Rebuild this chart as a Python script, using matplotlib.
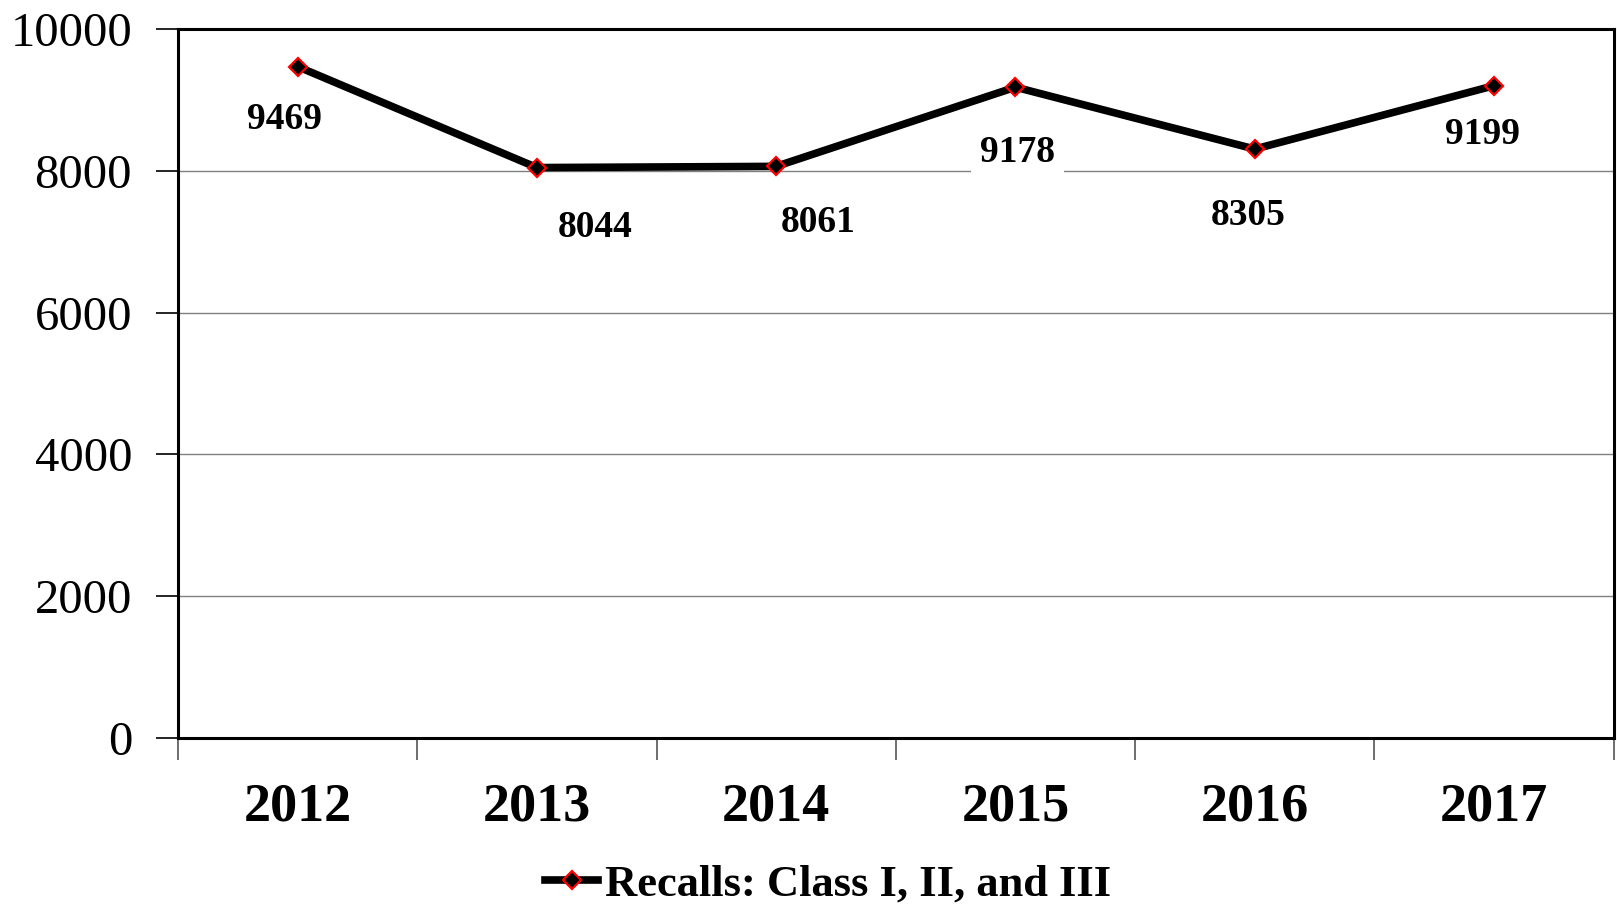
import matplotlib
matplotlib.use("Agg")
import matplotlib.pyplot as plt

years = ["2012", "2013", "2014", "2015", "2016", "2017"]
recalls = [9469, 8044, 8061, 9178, 8305, 9199]
series_name = "Recalls: Class I, II, and III"
y_ticks = [0, 2000, 4000, 6000, 8000, 10000]

# hand-placed label offsets (pixels), like the original chart
label_dx = [-13, 58, 42, 2, -7, -12]
label_dy = [-53, -60, -56, -65, -66, -49]

plt.rcParams['font.family'] = ['Liberation Serif', 'DejaVu Serif']

fig = plt.figure(figsize=(16.17, 9.08), dpi=100)
ax = fig.add_axes([0.110, 0.1872, 0.888, 0.781])

x = list(range(len(years)))
line, = ax.plot(x, recalls, color='black', linewidth=5.5, marker='D',
                markersize=9, markerfacecolor='black', markeredgecolor='red',
                markeredgewidth=1.6, label=series_name, zorder=3)

for xi, v, dx, dy in zip(x, recalls, label_dx, label_dy):
    ax.annotate(str(v), (xi, v), xytext=(dx, dy), textcoords='offset pixels',
                ha='center', va='center', fontsize=27, fontweight='bold',
                bbox=dict(boxstyle='square,pad=0.25', fc='white', ec='none'),
                zorder=4)

ax.set_xlim(-0.5, len(years) - 0.5)
ax.set_ylim(0, 10000)
ax.set_yticks(y_ticks)
ax.set_yticklabels([str(t) for t in y_ticks], fontsize=35)
ax.yaxis.grid(True, color='#808080', linewidth=1.0)
ax.set_axisbelow(True)

ax.set_xticks(x)
ax.set_xticklabels(years, fontsize=39, fontweight='bold')
ax.set_xticks([i - 0.5 for i in range(len(years) + 1)], minor=True)
ax.tick_params(axis='x', which='major', length=0, pad=32)
ax.tick_params(axis='x', which='minor', length=16, width=1.2, color='#555555')
ax.tick_params(axis='y', length=16, width=1.2, pad=17, color='black')

for s in ax.spines.values():
    s.set_linewidth(2.2)
    s.set_color('black')

fig.legend(handles=[line], loc='center', bbox_to_anchor=(0.512, 0.026),
           frameon=False, handlelength=1.2, handletextpad=0.15,
           borderaxespad=0, borderpad=0,
           prop={'size': 32, 'weight': 'bold'})

fig.savefig("out.png", dpi=100)
